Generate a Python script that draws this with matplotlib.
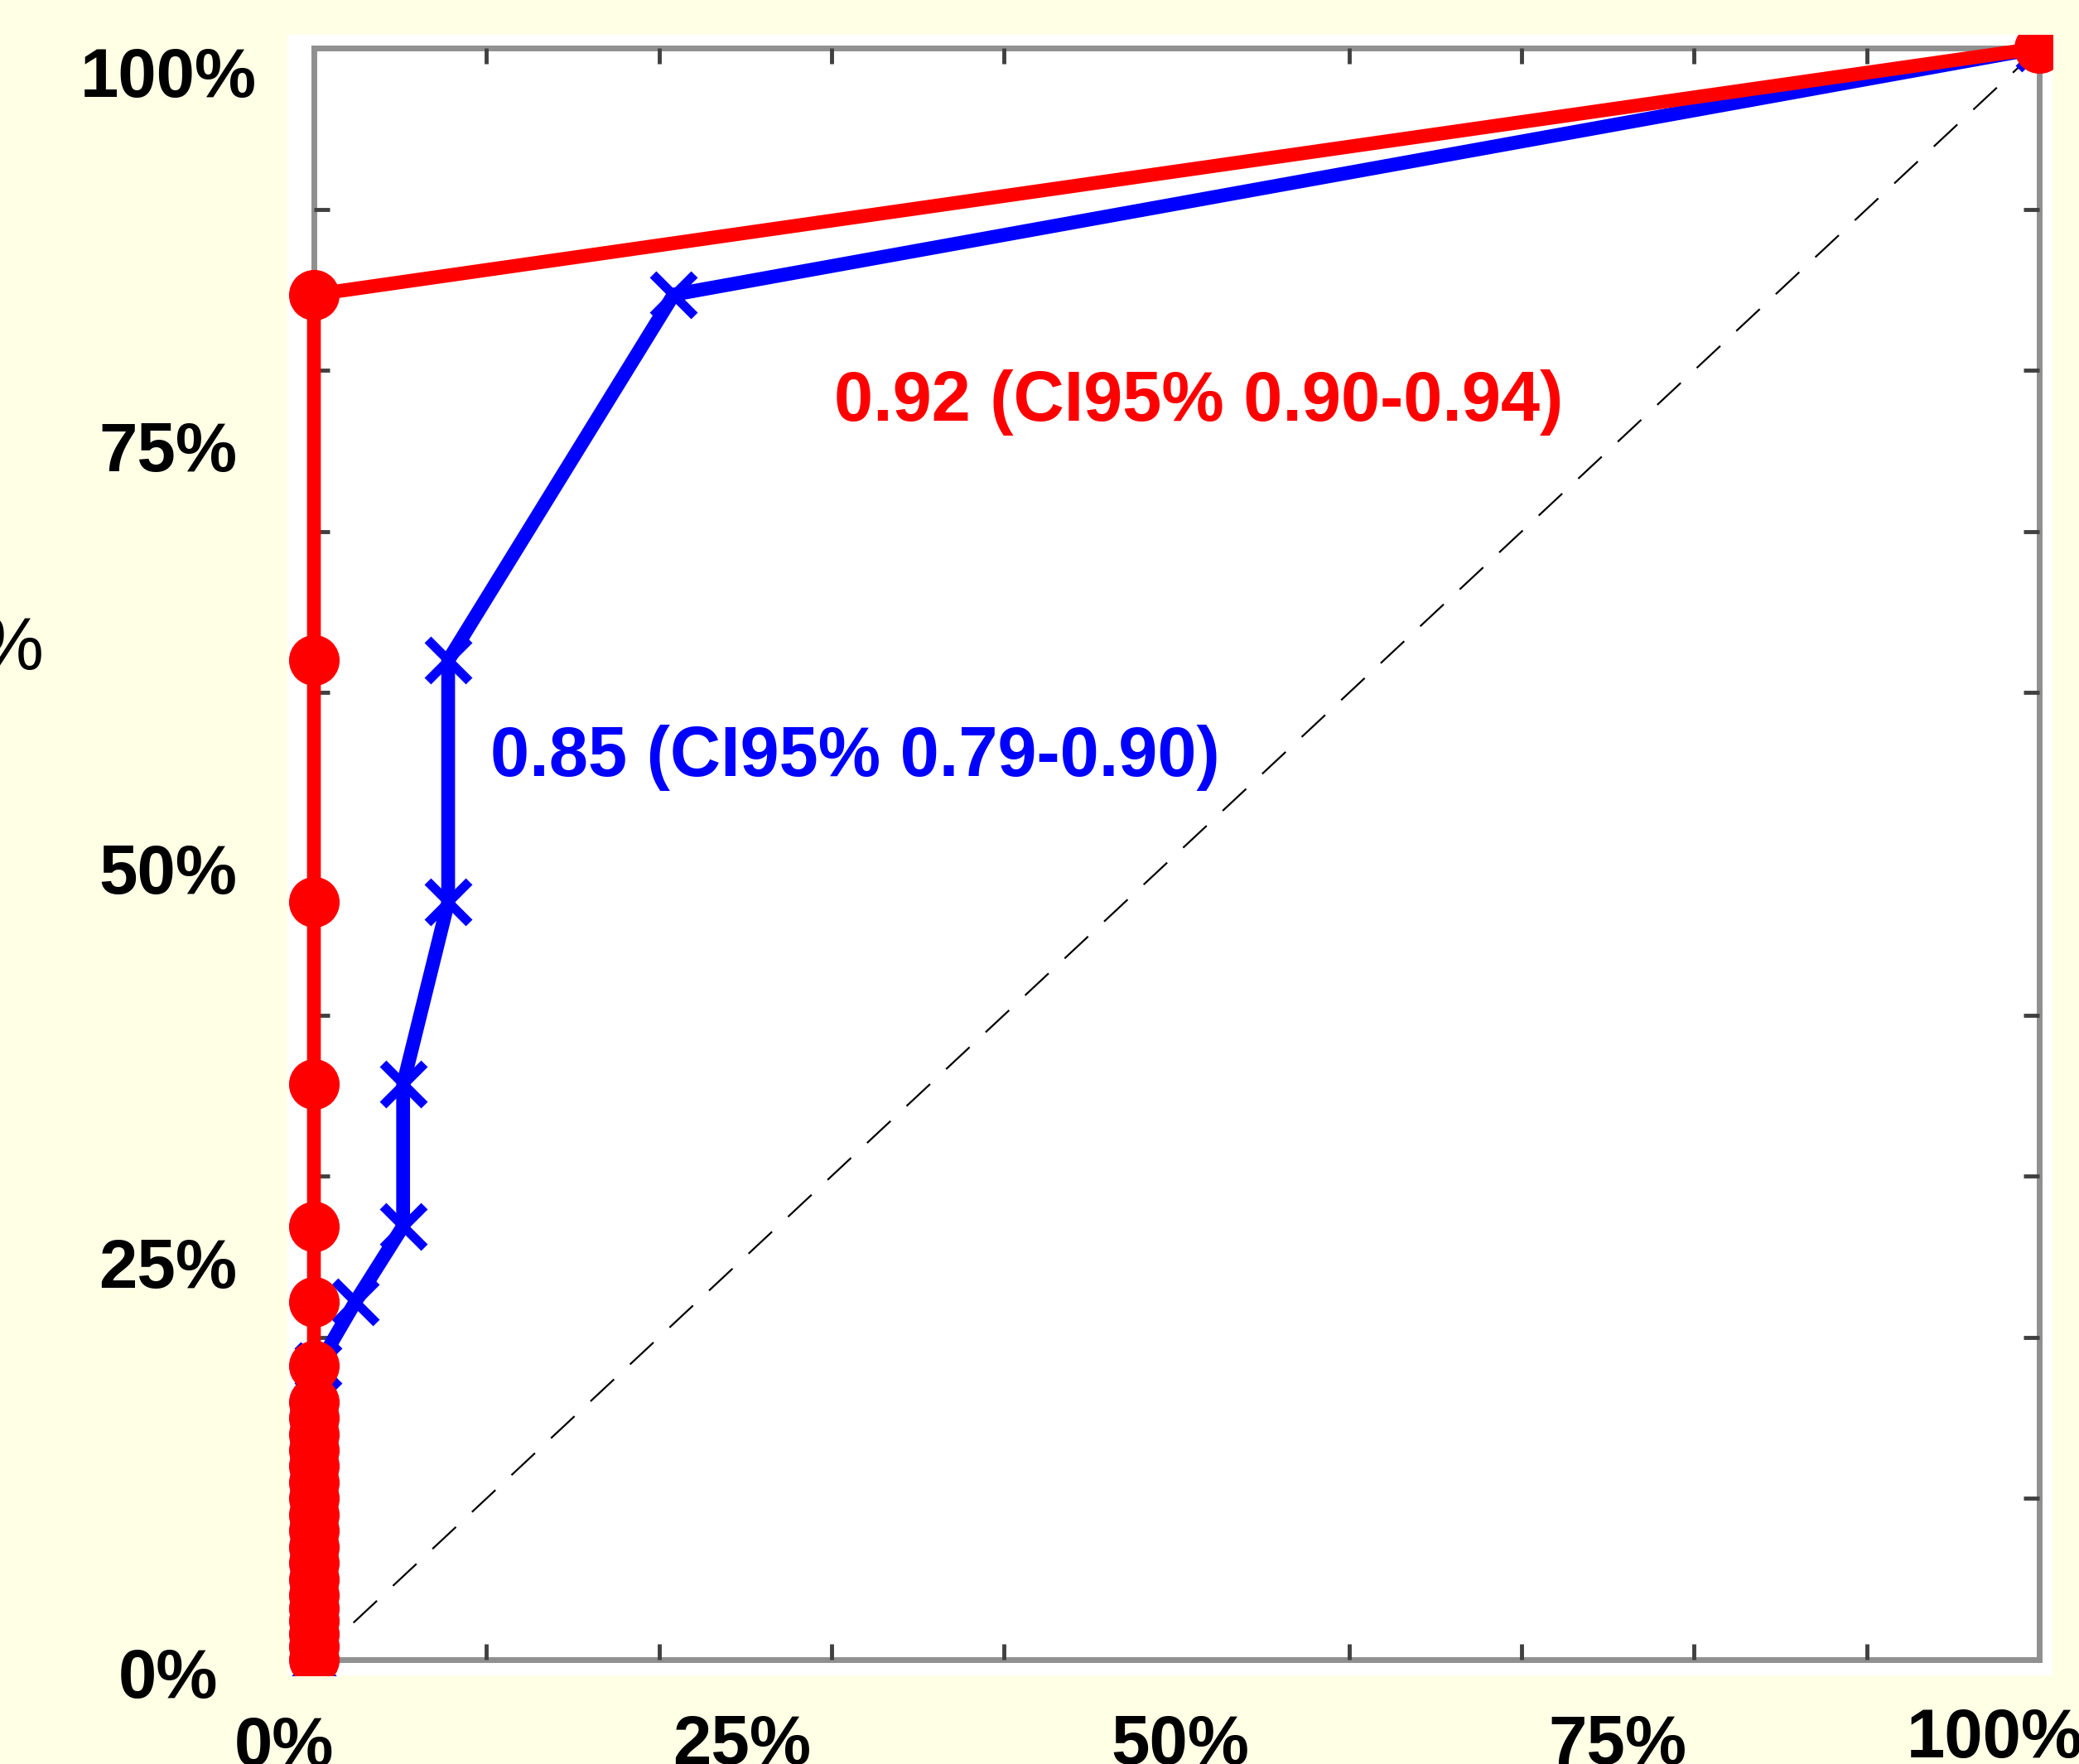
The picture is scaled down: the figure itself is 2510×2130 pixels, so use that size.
import matplotlib.pyplot as plt
import matplotlib.transforms as mtransforms
from matplotlib.patches import Rectangle
from matplotlib.ticker import MultipleLocator, FixedLocator, NullFormatter

plt.rcParams['font.family'] = ['Liberation Sans', 'DejaVu Sans']
plt.rcParams['lines.scale_dashes'] = False

# ROC points (false positive rate, true positive rate)
red_tpr = [0, 0.008, 0.016, 0.024, 0.032, 0.04, 0.05, 0.06, 0.07, 0.08,
           0.09, 0.10, 0.11, 0.12, 0.13, 0.14, 0.15, 0.16, 0.1825, 0.222,
           0.269, 0.357, 0.470, 0.620, 0.847, 1]
red_fpr = [0] * (len(red_tpr) - 1) + [1]

blue_fpr = [0, 0, 0, 0, 0, 0, 0.0025, 0.024, 0.0517, 0.0517, 0.0778, 0.0778, 0.2085, 1]
blue_tpr = [0, 0.03, 0.06, 0.09, 0.12, 0.15, 0.1825, 0.222, 0.269, 0.357, 0.470, 0.620, 0.847, 1]

red_label = '0.92 (CI95% 0.90-0.94)'
blue_label = '0.85 (CI95% 0.79-0.90)'

tick_vals = [0, 0.25, 0.5, 0.75, 1]
tick_labels = ['0%', '25%', '50%', '75%', '100%']

W, H = 2510, 2130
bg = '#FFFFE6'
fig = plt.figure(figsize=(W / 100, H / 100), dpi=100, facecolor=bg)

# white area of the pasted plot
paper = Rectangle((347 / W, 1 - 2023 / H), (2478 - 347) / W, (2023 - 42) / H,
                  transform=fig.transFigure, facecolor='white', edgecolor='none', zorder=-1)
fig.add_artist(paper)

ax = fig.add_axes([379 / W, 1 - 2004 / H, (2462 - 379) / W, (2004 - 58) / H])
ax.set_xlim(0, 1)
ax.set_ylim(0, 1)

ax.plot([0, 1], [0, 1], color='black', lw=1.6, dashes=(28, 19), zorder=1)

blue, = ax.plot(blue_fpr, blue_tpr, color='#0000FF', lw=12, marker='x',
                markersize=36, markeredgewidth=8, zorder=2)
red, = ax.plot(red_fpr, red_tpr, color='#FF0000', lw=12, marker='o',
               markersize=43, markeredgewidth=1, zorder=3)
for ln in (blue, red):
    ln.set_clip_path(paper)

ax.text(0.3015, 0.7688, red_label, color='#FF0000', fontsize=61,
        fontweight='bold', ha='left', va='baseline')
ax.text(0.1023, 0.5483, blue_label, color='#0000FF', fontsize=61,
        fontweight='bold', ha='left', va='baseline')

# axes frame, MATLAB style
for s in ax.spines.values():
    s.set_color('#909090')
    s.set_linewidth(5)
    s.set_zorder(0.5)
ax.xaxis.set_major_locator(FixedLocator(tick_vals))
ax.yaxis.set_major_locator(FixedLocator(tick_vals))
ax.xaxis.set_minor_locator(MultipleLocator(0.1))
ax.yaxis.set_minor_locator(MultipleLocator(0.1))
ax.xaxis.set_major_formatter(NullFormatter())
ax.yaxis.set_major_formatter(NullFormatter())
ax.tick_params(which='major', length=0)
ax.tick_params(which='minor', direction='in', length=14, width=3.5,
               color='#404040', top=True, right=True)

# percent labels, placed by hand like the original slide
ylab_drop = [46, 38, 48, 24, 59]      # baseline below the tick, px
xlab_shift = [-36, -4, 4, 12, -54]    # centre shift from the tick, px
xlab_base = [2132, 2130, 2130, 2130, 2122]
ytrans = ax.get_yaxis_transform()
for v, lab, d in zip(tick_vals, tick_labels, ylab_drop):
    t = mtransforms.offset_copy(ytrans, fig=fig, x=0, y=-d, units='dots')
    ax.text((203 - 379) / (2462 - 379), v, lab, transform=t, fontsize=60,
            fontweight='bold', ha='center', va='baseline', clip_on=False)
xtrans = ax.get_xaxis_transform()
for v, lab, dx, yb in zip(tick_vals, tick_labels, xlab_shift, xlab_base):
    t = mtransforms.offset_copy(xtrans, fig=fig, x=dx, y=0, units='dots')
    ax.text(v, (2004 - yb) / (2004 - 58), lab, transform=t, fontsize=60,
            fontweight='bold', ha='center', va='baseline', clip_on=False)

# left-over piece of the axis title, cut by the slide edge
fig.text(53 / W, 1 - 808 / H, '%', fontsize=64, ha='right', va='baseline')

fig.savefig('out.png', dpi=100, facecolor=bg)
